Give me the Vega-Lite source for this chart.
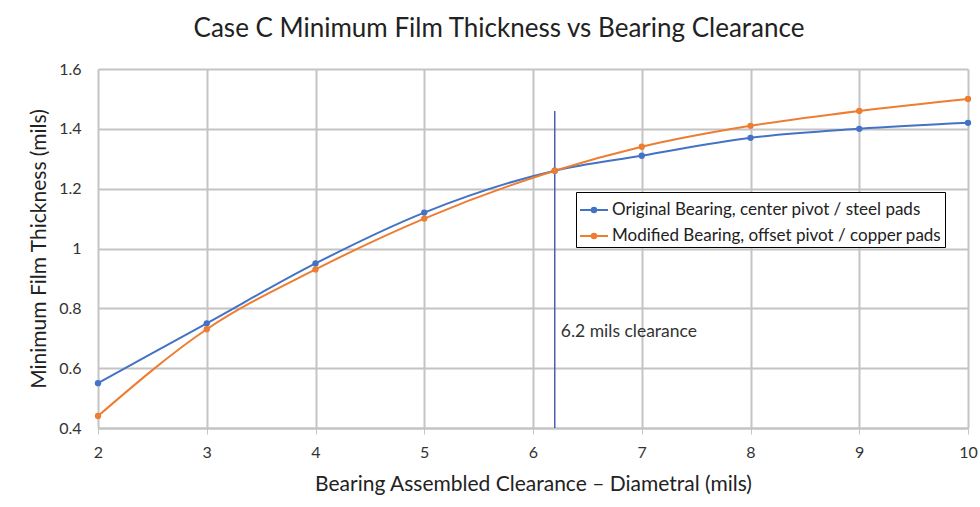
{
  "$schema": "https://vega.github.io/schema/vega-lite/v6.json",
  "width": 870,
  "height": 359,
  "autosize": {"type": "none"},
  "padding": {"left": 98, "top": 69, "right": 12, "bottom": 79},
  "background": "white",
  "title": {
    "text": "Case C Minimum Film Thickness vs Bearing Clearance",
    "anchor": "middle",
    "dx": -34,
    "offset": 19,
    "font": "Lato",
    "fontSize": 26,
    "fontWeight": "normal",
    "color": "#222222"
  },
  "config": {
    "font": "Lato",
    "view": {"stroke": null},
    "axis": {
      "gridColor": "#C4C4C4",
      "gridWidth": 2,
      "domainColor": "#C4C4C4",
      "domainWidth": 2,
      "tickColor": "#C4C4C4",
      "labelFont": "Lato",
      "titleFont": "Lato",
      "labelFontSize": 16,
      "labelColor": "#333333",
      "titleColor": "#222222",
      "titleFontWeight": "normal"
    }
  },
  "datasets": {
    "curves": [
      {"x": 2, "y": 0.55, "s": "Original Bearing, center pivot / steel pads"},
      {"x": 3, "y": 0.75, "s": "Original Bearing, center pivot / steel pads"},
      {"x": 4, "y": 0.95, "s": "Original Bearing, center pivot / steel pads"},
      {"x": 5, "y": 1.12, "s": "Original Bearing, center pivot / steel pads"},
      {"x": 6.2, "y": 1.26, "s": "Original Bearing, center pivot / steel pads"},
      {"x": 7, "y": 1.31, "s": "Original Bearing, center pivot / steel pads"},
      {"x": 8, "y": 1.37, "s": "Original Bearing, center pivot / steel pads"},
      {"x": 9, "y": 1.40, "s": "Original Bearing, center pivot / steel pads"},
      {"x": 10, "y": 1.42, "s": "Original Bearing, center pivot / steel pads"},
      {"x": 2, "y": 0.44, "s": "Modified Bearing, offset pivot / copper pads"},
      {"x": 3, "y": 0.73, "s": "Modified Bearing, offset pivot / copper pads"},
      {"x": 4, "y": 0.93, "s": "Modified Bearing, offset pivot / copper pads"},
      {"x": 5, "y": 1.10, "s": "Modified Bearing, offset pivot / copper pads"},
      {"x": 6.2, "y": 1.26, "s": "Modified Bearing, offset pivot / copper pads"},
      {"x": 7, "y": 1.34, "s": "Modified Bearing, offset pivot / copper pads"},
      {"x": 8, "y": 1.41, "s": "Modified Bearing, offset pivot / copper pads"},
      {"x": 9, "y": 1.46, "s": "Modified Bearing, offset pivot / copper pads"},
      {"x": 10, "y": 1.50, "s": "Modified Bearing, offset pivot / copper pads"}
    ],
    "marker": [
      {"x": 6.2, "y0": 0.4, "y1": 1.46, "ty": 0.72, "label": "6.2 mils clearance"}
    ]
  },
  "layer": [
    {
      "data": {"name": "marker"},
      "mark": {"type": "rule", "color": "#4F5DB5", "strokeWidth": 1.5},
      "encoding": {
        "x": {"field": "x", "type": "quantitative", "scale": {"domain": [2, 10], "nice": false, "zero": false},
          "axis": {"values": [2,3,4,5,6,7,8,9,10], "format": "d", "labelFlush": false, "title": "Bearing Assembled Clearance – Diametral (mils)", "titleFontSize": 21, "titlePadding": 13, "labelPadding": 10, "tickSize": 6, "grid": true}},
        "y": {"field": "y0", "type": "quantitative", "scale": {"domain": [0.4, 1.6], "nice": false, "zero": false},
          "axis": {"values": [0.4,0.6,0.8,1,1.2,1.4,1.6], "format": "~g", "title": "Minimum Film Thickness (mils)", "titleFontSize": 21, "titlePadding": 9, "labelPadding": 17, "ticks": false, "domain": false, "grid": true}},
        "y2": {"field": "y1"}
      }
    },
    {
      "data": {"name": "marker"},
      "mark": {"type": "text", "align": "left", "baseline": "middle", "dx": 6, "fontSize": 17.5, "color": "#333333"},
      "encoding": {
        "x": {"field": "x", "type": "quantitative"},
        "y": {"field": "ty", "type": "quantitative"},
        "text": {"field": "label"}
      }
    },
    {
      "data": {"name": "curves"},
      "mark": {"type": "line", "interpolate": "monotone", "strokeWidth": 2, "point": {"size": 40, "filled": true}},
      "encoding": {
        "x": {"field": "x", "type": "quantitative"},
        "y": {"field": "y", "type": "quantitative"},
        "color": {
          "field": "s",
          "type": "nominal",
          "scale": {"domain": ["Original Bearing, center pivot / steel pads", "Modified Bearing, offset pivot / copper pads"], "range": ["#4472C4", "#ED7D31"]},
          "legend": {
            "title": null,
            "orient": "none",
            "legendX": 478,
            "legendY": 123,
            "strokeColor": "#000000",
            "fillColor": "white",
            "padding": 3,
            "labelFontSize": 17,
            "labelLimit": 0,
            "labelOffset": 3,
            "labelColor": "#222222",
            "symbolType": "M-1,0L1,0M-0.16,0A0.16,0.16,0,1,1,0.16,0A0.16,0.16,0,1,1,-0.16,0Z",
            "symbolStrokeWidth": 2,
            "symbolSize": 784,
            "rowPadding": 3
          }
        },
        "order": {"field": "x", "type": "quantitative"}
      }
    }
  ]
}
